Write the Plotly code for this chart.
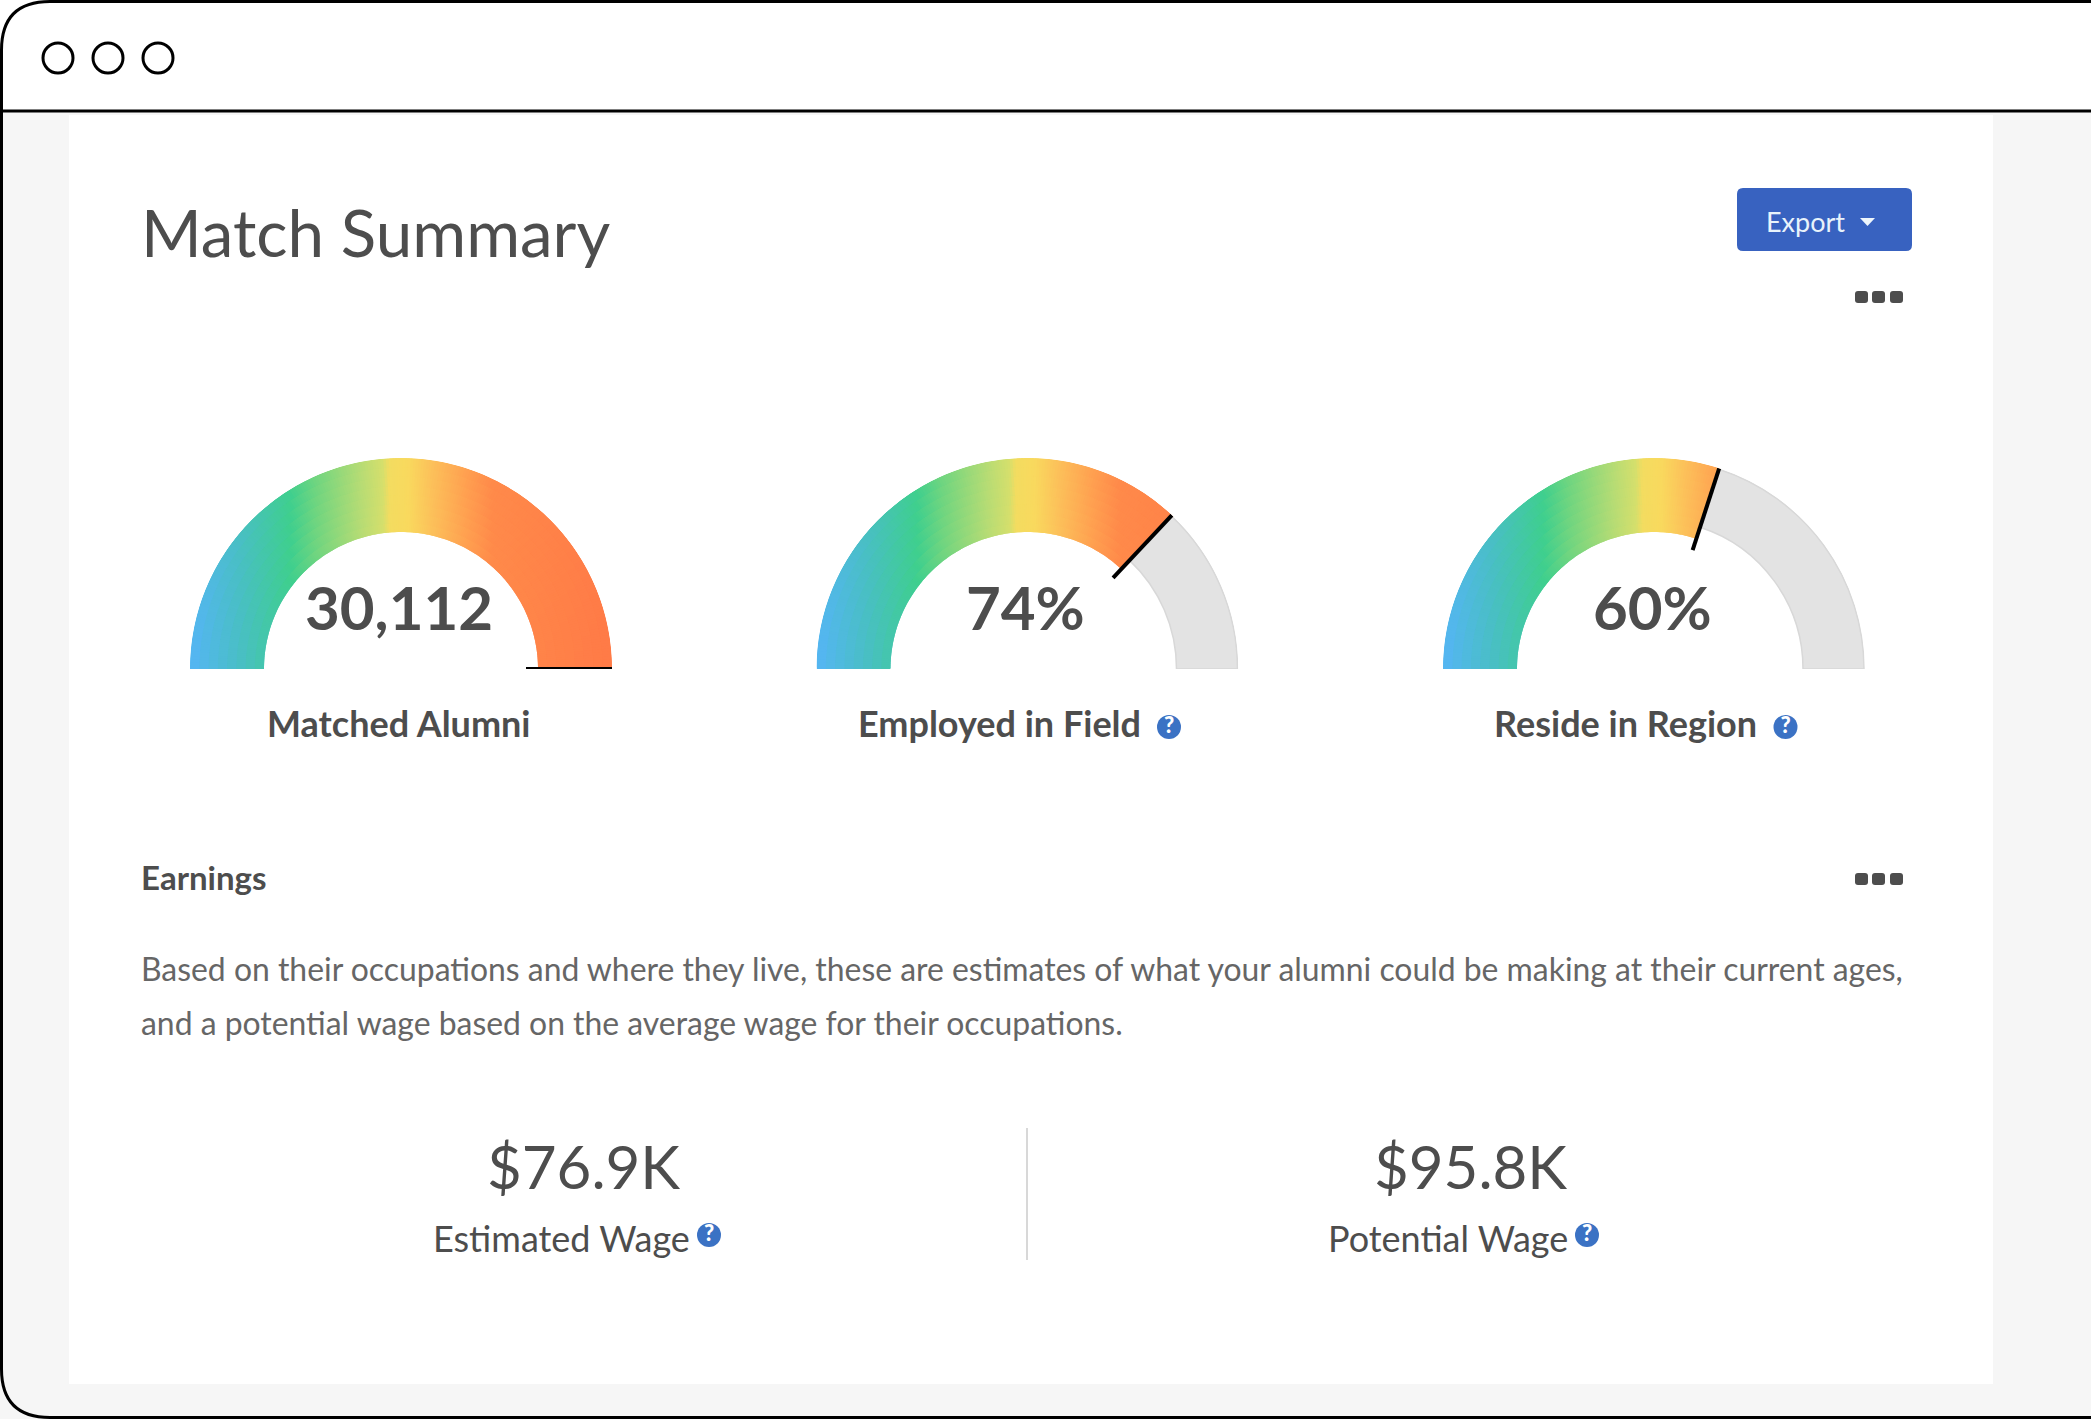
import numpy as np
import plotly.graph_objects as go

W, H = 2091, 1419

# chart values
gauge_values = [100, 74, 60]
gauge_texts = ["30,112", "74%", "60%"]
gauge_labels = ["Matched Alumni", "Employed in Field", "Reside in Region"]
wage_values = ["$76.9K", "$95.8K"]
wage_labels = ["Estimated Wage", "Potential Wage"]
paragraph = [
    "Based on their occupations and where they live, these are estimates of what your alumni could be making at their current ages,",
    "and a potential wage based on the average wage for their occupations.",
]

# layout in pixels
gauge_cx = [401, 1027.5, 1654]
gauge_base = 669
outer_r, inner_r, grey_r, needle_r = 211, 137, 149, 125
label_x = [398.5, 999, 1625.5]
help_x = [1169, 1785.5, 709, 1587]
help_y = [727, 727, 1235, 1235]
dots_x = [1855, 1872, 1890]
dots_y = [291, 873]

TEXT = "#4d4d4d"
gradient = [
    [0.0, "#55b5f5"], [0.12, "#49bfc4"], [0.24, "#3fcf8e"], [0.30, "#6fd580"], [0.41, "#b8dc74"],
    [0.46, "#d5df6c"], [0.475, "#f3dc60"], [0.52, "#f9d95e"], [0.577, "#fcc05a"], [0.66, "#ff9f50"],
    [0.72, "#ff8a4a"], [1.0, "#ff7a47"],
]


def round_rect(x0, y0, x1, y1, r):
    return (
        f"M{x0 + r},{y0} L{x1 - r},{y0} Q{x1},{y0} {x1},{y0 + r} L{x1},{y1 - r} Q{x1},{y1} {x1 - r},{y1} "
        f"L{x0 + r},{y1} Q{x0},{y1} {x0},{y1 - r} L{x0},{y0 + r} Q{x0},{y0} {x0 + r},{y0} Z"
    )


def label(text, x, y, size, color=TEXT, weight=400, anchor="center"):
    return dict(
        text=text, x=x, y=y, xref="x", yref="y", xanchor=anchor, yanchor="middle", showarrow=False,
        font=dict(family="Lato", size=size, color=color, weight=weight),
    )


fig = go.Figure()

for i, value in enumerate(gauge_values):
    polar = "polar" if i == 0 else f"polar{i + 1}"
    end_angle = 180 * (1 - value / 100)

    # overlapping cells so the colour runs left to right across the whole arc without seams
    step = 0.75
    ring_h = (outer_r - inner_r) / 8
    thetas = np.arange(180 - step / 2, end_angle, -step)
    rings = inner_r + ring_h * np.arange(8)
    tt, bb = np.meshgrid(thetas, rings)
    tt, bb = tt.ravel(), bb.ravel()
    heights = np.minimum(ring_h + 2.5, outer_r - bb)
    frac = ((bb + ring_h / 2) * np.cos(np.radians(tt)) + outer_r) / (2 * outer_r)
    fig.add_trace(go.Barpolar(
        subplot=polar, theta=tt, r=heights, base=bb, width=step * 2,
        marker=dict(color=frac, colorscale=gradient, cmin=0, cmax=1, line_width=0),
        hoverinfo="skip", showlegend=False,
    ))
    if value < 100:
        fig.add_trace(go.Barpolar(
            subplot=polar, theta=[end_angle / 2], r=[outer_r - grey_r - 1], base=[grey_r], width=[end_angle],
            marker=dict(color="#e3e3e3", line=dict(color="#d8d8d8", width=1.5)),
            hoverinfo="skip", showlegend=False,
        ))
    fig.add_trace(go.Scatterpolar(
        subplot=polar, theta=[end_angle, end_angle], r=[needle_r, outer_r], mode="lines",
        line=dict(color="black", width=4), cliponaxis=False, hoverinfo="skip", showlegend=False,
    ))
    fig.update_layout({polar: dict(
        domain=dict(
            x=[(gauge_cx[i] - outer_r) / W, (gauge_cx[i] + outer_r) / W],
            y=[(H - gauge_base) / H, (H - gauge_base + outer_r) / H],
        ),
        sector=[0, 180], bgcolor="rgba(0,0,0,0)",
        radialaxis=dict(visible=False, range=[0, outer_r]),
        angularaxis=dict(visible=False),
    )})

# help icons
fig.add_trace(go.Scatter(
    x=help_x, y=help_y, mode="markers+text", text=["?"] * 4, textposition="middle center",
    marker=dict(symbol="circle", size=24, color="#3b72c4"),
    textfont=dict(family="Lato", size=22, color="white", weight=900),
    hoverinfo="skip", showlegend=False,
))

shapes = [
    dict(type="rect", x0=0, x1=W, y0=111, y1=H, fillcolor="#f6f6f6", line_width=0),
    dict(type="rect", x0=69, x1=1993, y0=115, y1=1384, fillcolor="white", line_width=0),
    dict(type="path", path=f"M{W},1.5 L50,1.5 Q1.5,1.5 1.5,50 L1.5,1369 Q1.5,1417.5 50,1417.5 L{W},1417.5",
         line=dict(color="black", width=3)),
    dict(type="line", x0=3, x1=W, y0=111, y1=111, line=dict(color="black", width=3)),
    dict(type="path", path=round_rect(1737, 188, 1912, 251, 6), fillcolor="#3862c0", line_width=0),
    dict(type="path", path="M1860,218 L1875,218 L1867.5,226 Z", fillcolor="#eef6fc", line_width=0),
    dict(type="line", x0=1027, x1=1027, y0=1128, y1=1260, line=dict(color="#d8d8d8", width=2)),
]
for cx in [58, 108, 158]:
    shapes.append(dict(type="circle", x0=cx - 15, x1=cx + 15, y0=43, y1=73, line=dict(color="black", width=3)))
for y in dots_y:
    for x in dots_x:
        shapes.append(dict(type="path", path=round_rect(x, y, x + 13, y + 12, 3), fillcolor=TEXT, line_width=0))
for s in shapes:
    s["layer"] = "below"

annotations = [
    label("Match Summary", 139, 231, 65.5, anchor="left"),
    label("Export", 1805.5, 221, 27, color="#e8f3fb"),
    label("Earnings", 139, 877, 33, weight=700, anchor="left"),
    label(paragraph[0], 139, 969, 31.9, color="#666666", anchor="left"),
    label(paragraph[1], 139, 1023, 31.9, color="#666666", anchor="left"),
]
for cx, text in zip(gauge_cx, gauge_texts):
    annotations.append(label(text, cx - 2, 607, 60, weight=700))
for x, text in zip(label_x, gauge_labels):
    annotations.append(label(text, x, 723, 36, weight=700))
for x, text in zip([583, 1470], wage_values):
    annotations.append(label(text, x, 1166, 60))
for x, text in zip([561, 1448], wage_labels):
    annotations.append(label(text, x, 1238, 36))

fig.update_layout(
    width=W, height=H, margin=dict(l=0, r=0, t=0, b=0), autosize=False,
    paper_bgcolor="white", plot_bgcolor="rgba(0,0,0,0)", showlegend=False,
    xaxis=dict(range=[0, W], visible=False, fixedrange=True),
    yaxis=dict(range=[H, 0], visible=False, fixedrange=True),
    shapes=shapes, annotations=annotations,
)

fig.write_html("out.html", config={"displayModeBar": False}, post_script="document.body.style.margin = '0';")
